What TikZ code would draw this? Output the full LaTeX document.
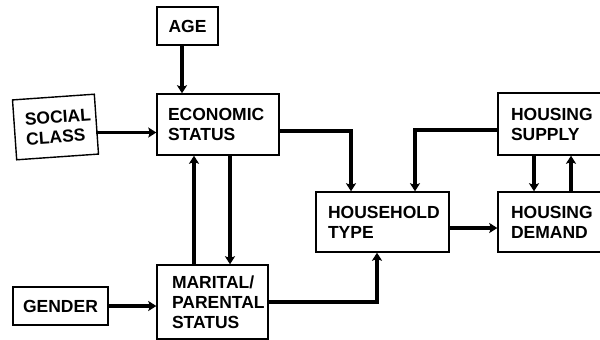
\documentclass[tikz,border=0pt]{standalone}
\usepackage{fontspec}
\setmainfont{Liberation Sans}
\usetikzlibrary{arrows.meta,calc}
\begin{document}
\begin{tikzpicture}[x=1pt,y=-1pt,
  box/.style={draw, line width=1.4pt, inner sep=0pt, align=left,
    font=\fontsize{17.5}{20}\selectfont\bfseries},
  arr/.style={line width=3.4pt, -{Stealth[length=8pt,width=10pt,inset=1.5pt]}}]
\clip (0,0) rectangle (600,340);
\node[box, minimum width=61pt, minimum height=38pt, align=center] (age) at (187.5,26) {AGE};
\node[box, minimum width=122pt, minimum height=61pt, text width=100pt] (econ) at (218,124.5) {ECONOMIC\\STATUS};
\node[box, minimum width=82pt, minimum height=60pt, text width=60pt, rotate=4] (social) at (55.5,127) {SOCIAL\\CLASS};
\node[box, minimum width=95pt, minimum height=38pt, align=center] (gender) at (60.5,306) {GENDER};
\node[box, minimum width=111pt, minimum height=74pt, text width=81pt] (marital) at (212.5,302) {MARITAL/\\PARENTAL\\STATUS};
\node[box, minimum width=133pt, minimum height=60pt, text width=109pt] (household) at (382.5,222) {HOUSEHOLD\\TYPE};
\node[box, minimum width=140pt, minimum height=62pt, text width=114pt] (supply) at (568,124) {HOUSING\\SUPPLY};
\node[box, minimum width=140pt, minimum height=60pt, text width=114pt] (demand) at (568,222) {HOUSING\\DEMAND};

\coordinate (pA) at ([xshift=-5.5pt]age.south);
\draw[arr] (pA) -- (pA |- econ.north);

\coordinate (pS) at ([yshift=-8pt]econ.west);
\coordinate (sE) at ([xshift=-0.6pt]social.east);
\draw[arr] (sE |- pS) -- (pS);

\coordinate (pE) at ([yshift=-6.5pt]econ.east);
\coordinate (hN1) at ([xshift=-31.5pt]household.north);
\draw[arr] (pE) -| (hN1);

\coordinate (pSu) at ([yshift=-6pt]supply.west);
\coordinate (hN2) at ([xshift=32.5pt]household.north);
\draw[arr] (pSu) -| (hN2);

\coordinate (eU) at ([xshift=-24pt]econ.south);
\draw[arr] (eU |- marital.north) -- (eU);
\coordinate (eD) at ([xshift=12pt]econ.south);
\draw[arr] (eD) -- (eD |- marital.north);

\draw[arr] (gender.east) -- (gender.east -| marital.west);

\coordinate (hS) at ([xshift=-5.5pt]household.south);
\draw[arr] (marital.east) -| (hS);

\coordinate (hE) at ([yshift=-6pt]household.east);
\draw[arr] (hE) -- (hE -| demand.west);

\coordinate (sD) at ([xshift=-34pt]supply.south);
\draw[arr] (sD) -- (sD |- demand.north);
\coordinate (dU) at ([xshift=3pt]demand.north);
\draw[arr] (dU) -- (dU |- supply.south);
\end{tikzpicture}
\end{document}
